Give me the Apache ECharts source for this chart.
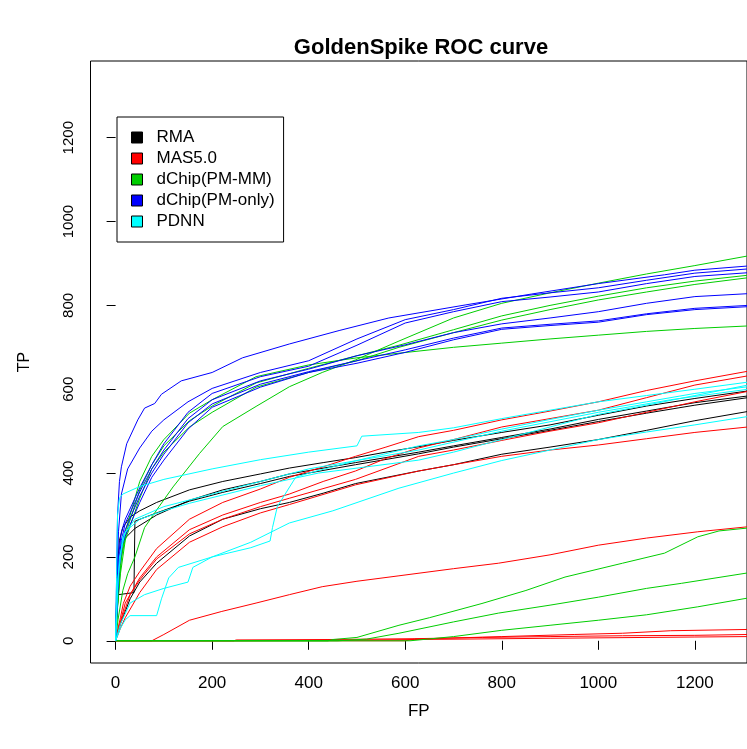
<!DOCTYPE html>
<html>
<head>
<meta charset="utf-8">
<title>GoldenSpike ROC curve</title>
<script src="https://cdn.jsdelivr.net/npm/echarts@6/dist/echarts.min.js"></script>
<style>
html, body { margin: 0; padding: 0; background: #fff; }
#chart { width: 747px; height: 749px; }
</style>
</head>
<body>
<div id="chart"></div>
<script>
var xTicks = [0, 200, 400, 600, 800, 1000, 1200];
var yTicks = [0, 200, 400, 600, 800, 1000, 1200];
var methods = ['RMA', 'MAS5.0', 'dChip(PM-MM)', 'dChip(PM-only)', 'PDNN'];

// RMA  [FP, TP]
var rma1 = [[0,0],[2,100],[4,180],[8,240],[15,270],[30,295],[50,310],[85,330],[153,360],[222,380],[300,398],[360,412],[430,425],[497,437],[560,450],[628,463],[700,478],[800,497],[900,515],[1000,538],[1100,560],[1200,578],[1310,596]];
var rma2 = [[0,0],[3,110],[6,190],[12,225],[20,245],[40,268],[85,300],[153,335],[222,360],[300,380],[360,398],[497,425],[628,450],[700,465],[800,485],[900,505],[1000,528],[1100,548],[1200,568],[1310,584]];
var rma3 = [[0,0],[2,60],[6,110],[10,113],[38,115],[40,285],[55,292],[85,305],[153,333],[222,354],[300,375],[360,392],[497,420],[628,446],[700,462],[800,482],[900,502],[1000,523],[1100,543],[1200,562],[1310,580]];
var rma4 = [[0,0],[10,40],[20,70],[30,100],[50,140],[85,185],[153,250],[222,290],[300,315],[360,330],[430,352],[497,375],[628,405],[700,420],[800,445],[900,462],[1000,480],[1100,502],[1200,525],[1310,547]];

// MAS5.0
var mas1 = [[0,0],[5,30],[10,55],[16,89],[30,130],[50,165],[85,220],[153,290],[222,330],[300,362],[360,390],[430,415],[497,440],[560,462],[628,487],[700,502],[800,527],[900,548],[1000,570],[1100,597],[1200,620],[1310,643]];
var mas2 = [[0,0],[5,25],[10,45],[20,90],[50,150],[85,200],[153,265],[222,300],[300,330],[360,350],[430,380],[497,405],[560,435],[628,460],[700,480],[800,510],[900,530],[1000,550],[1100,580],[1200,610],[1310,632]];
var mas3 = [[0,0],[8,35],[15,60],[30,110],[50,145],[85,195],[153,255],[222,290],[300,320],[360,340],[497,385],[628,440],[700,455],[800,478],[900,500],[1000,520],[1100,545],[1200,570],[1310,595]];
var mas4 = [[0,0],[10,30],[20,55],[50,115],[85,170],[153,235],[222,272],[300,305],[360,325],[497,372],[628,405],[700,420],[800,440],[900,455],[1000,467],[1100,482],[1200,497],[1310,510]];
var mas5 = [[0,0],[75,0],[100,15],[153,49],[220,70],[291,90],[360,110],[428,129],[500,142],[587,155],[700,172],[793,185],[900,205],[1000,228],[1100,245],[1206,260],[1310,272]];
var mas6 = [[0,0],[245,0],[250,2],[440,3],[620,5],[760,8],[900,10],[1050,12],[1200,13],[1310,15]];
var mas7 = [[0,0],[600,0],[620,4],[800,10],[950,15],[1050,18],[1150,24],[1310,27]];
var mas8 = [[0,0],[240,0],[440,1],[620,3],[900,6],[1200,9],[1310,10]];

// dChip(PM-MM)
var pmmm1 = [[0,0],[5,50],[15,120],[25,160],[40,200],[60,270],[90,320],[119,367],[174,447],[222,511],[291,559],[360,606],[428,640],[497,670],[587,715],[700,770],[800,805],[900,830],[1000,853],[1100,875],[1200,895],[1310,918]];
var pmmm2 = [[0,0],[4,80],[10,160],[20,240],[35,290],[50,340],[75,410],[100,450],[153,510],[200,545],[291,605],[400,640],[500,668],[587,700],[700,735],[800,765],[900,790],[1000,813],[1100,832],[1200,850],[1310,866]];
var pmmm3 = [[0,0],[4,90],[10,180],[20,260],[35,320],[50,380],[75,440],[100,480],[153,543],[200,575],[291,630],[400,658],[500,675],[587,686],[700,700],[800,710],[900,720],[1000,729],[1100,738],[1200,745],[1310,751]];
var pmmm4 = [[0,0],[5,100],[12,200],[25,270],[50,360],[75,420],[100,465],[153,525],[200,560],[291,615],[400,650],[500,680],[587,705],[700,742],[800,775],[900,800],[1000,822],[1100,842],[1200,858],[1310,872]];
var pmmm5 = [[0,0],[440,0],[450,3],[500,8],[587,37],[650,55],[759,89],[850,120],[931,152],[1050,185],[1137,209],[1206,248],[1250,262],[1310,269]];
var pmmm6 = [[0,0],[460,0],[520,4],[587,18],[700,45],[793,66],[900,85],[1000,104],[1100,125],[1172,137],[1310,162]];
var pmmm7 = [[0,0],[610,0],[700,10],[800,25],[900,37],[1000,49],[1100,62],[1206,81],[1310,102]];

// dChip(PM-only)
var pmo1 = [[0,0],[2,150],[4,300],[8,380],[12,415],[23,470],[46,527],[60,555],[81,566],[95,588],[136,620],[200,640],[263,675],[360,708],[463,740],[566,770],[724,801],[861,827],[1000,852],[1137,873],[1200,884],[1310,894]];
var pmo2 = [[0,0],[3,150],[6,260],[12,350],[25,410],[50,460],[75,500],[100,527],[150,570],[200,602],[300,640],[400,668],[500,720],[600,766],[700,790],[800,817],[900,830],[1000,842],[1100,860],[1200,877],[1310,887]];
var pmo3 = [[0,0],[3,120],[6,200],[12,260],[20,290],[50,365],[75,420],[100,470],[150,545],[200,590],[300,630],[400,655],[500,705],[600,758],[700,785],[800,809],[900,820],[1000,832],[1100,852],[1200,869],[1310,878]];
var pmo4 = [[0,0],[3,100],[6,180],[12,240],[20,280],[50,355],[75,410],[100,455],[150,530],[200,575],[300,620],[400,648],[500,680],[600,706],[700,735],[800,756],[900,770],[1000,785],[1100,805],[1200,821],[1310,828]];
var pmo5 = [[0,0],[3,90],[6,170],[12,230],[20,265],[50,345],[75,400],[100,445],[150,520],[200,565],[300,612],[400,642],[500,668],[600,694],[700,722],[800,746],[900,755],[1000,763],[1100,780],[1200,793],[1310,800]];
var pmo6 = [[0,0],[4,100],[8,180],[14,230],[20,250],[50,330],[75,390],[100,431],[150,505],[200,557],[300,605],[400,640],[500,662],[600,688],[700,718],[800,743],[900,752],[1000,760],[1100,778],[1200,790],[1310,797]];

// PDNN
var pdnn1 = [[0,0],[2,150],[4,300],[8,340],[15,350],[50,368],[100,385],[200,410],[300,432],[400,450],[500,465],[510,488],[628,497],[700,508],[800,530],[900,550],[1000,570],[1100,585],[1200,600],[1310,617]];
var pdnn2 = [[0,0],[10,30],[20,50],[30,60],[85,60],[95,100],[110,150],[130,175],[200,200],[280,222],[320,238],[325,270],[335,320],[373,390],[400,400],[500,430],[628,465],[700,480],[800,505],[900,528],[1000,550],[1100,570],[1200,590],[1310,606]];
var pdnn3 = [[0,0],[10,40],[30,90],[60,110],[100,125],[150,140],[160,175],[200,200],[280,235],[360,281],[450,310],[587,364],[700,400],[800,430],[900,455],[1000,480],[1100,498],[1200,515],[1310,535]];
var pdnn4 = [[0,0],[3,100],[8,200],[20,260],[50,290],[100,310],[153,328],[300,370],[420,400],[628,431],[700,450],[800,480],[900,510],[1000,540],[1100,562],[1200,585],[1310,610]];
var pdnn5 = [[0,0],[5,150],[15,250],[40,290],[100,320],[200,350],[300,380],[400,410],[500,430],[628,455],[800,500],[1000,545],[1150,575],[1310,600]];

var curvesByMethod = [
	[rma1, rma2, rma3, rma4],
	[mas1, mas2, mas3, mas4, mas5, mas6, mas7, mas8],
	[pmmm1, pmmm2, pmmm3, pmmm4, pmmm5, pmmm6, pmmm7],
	[pmo1, pmo2, pmo3, pmo4, pmo5, pmo6],
	[pdnn1, pdnn2, pdnn3, pdnn4, pdnn5]
];

var initRocChart = function(chartId, chartTitle, names, curveGroups){
	var dom = document.getElementById(chartId);
	var myChart = echarts.init(dom, null, {renderer: 'canvas'});
	var colors = ['#000000', '#ff0000', '#00cd00', '#0000ff', '#00ffff'];
	var font = 'Liberation Sans, Arial, sans-serif';
	var plain = function(v){ return String(v); };

	var series = [];
	for (var i = 0; i < names.length; i++) {
		for (var j = 0; j < curveGroups[i].length; j++) {
			series.push({
				name: names[i],
				type: 'line',
				data: curveGroups[i][j],
				symbol: 'none',
				showSymbol: false,
				silent: true,
				itemStyle: { color: colors[i] },
				lineStyle: { color: colors[i], width: 1 }
			});
		}
	}

	var option = {
	    animation: false,
	    backgroundColor: '#fff',
	    title: {
	        text: chartTitle,
	        left: 421,
	        top: 37,
	        textAlign: 'center',
	        padding: 0,
	        textStyle: { fontFamily: font, fontSize: 22, fontWeight: 'bold', color: '#000' }
	    },
	    legend: {
	        data: names,
	        orient: 'vertical',
	        left: 117,
	        top: 117,
	        icon: 'rect',
	        itemWidth: 11,
	        itemHeight: 11,
	        itemGap: 4,
	        padding: [12, 9, 12, 14],
	        backgroundColor: '#fff',
	        borderColor: '#000',
	        borderWidth: 1,
	        selectedMode: false,
	        itemStyle: { borderColor: '#000', borderWidth: 1 },
	        textStyle: { fontFamily: font, fontSize: 17, color: '#000', padding: [0, 0, 0, 9] }
	    },
	    grid: {
	        left: 90.5,
	        right: -2.4,
	        top: 61,
	        bottom: 86,
	        show: true,
	        borderColor: '#000',
	        borderWidth: 1,
	        backgroundColor: 'transparent'
	    },
	    xAxis: {
	        type: 'value',
	        min: -52,
	        max: 1308,
	        name: 'FP',
	        nameLocation: 'middle',
	        nameGap: 40,
	        nameTextStyle: { fontFamily: font, fontSize: 17, color: '#000' },
	        axisLine: { show: false },
	        axisTick: { show: true, customValues: xTicks, length: 9, lineStyle: { color: '#000' } },
	        axisLabel: { customValues: xTicks, formatter: plain, margin: 12, fontFamily: font, fontSize: 17, color: '#000' },
	        splitLine: { show: false }
	    },
	    yAxis: {
	        type: 'value',
	        min: -53,
	        max: 1383,
	        name: 'TP',
	        nameLocation: 'middle',
	        nameGap: 58,
	        nameTextStyle: { fontFamily: font, fontSize: 16, color: '#000' },
	        axisLine: { show: false },
	        axisTick: { show: true, customValues: yTicks, length: 9, lineStyle: { color: '#000' } },
	        axisLabel: { customValues: yTicks, formatter: plain, rotate: 90, margin: 14, fontFamily: font, fontSize: 15, color: '#000' },
	        splitLine: { show: false }
	    },
	    series: series
	};

	if (option && typeof option === "object") {
	    myChart.setOption(option, true);
	}
};

initRocChart('chart', 'GoldenSpike ROC curve', methods, curvesByMethod);
</script>
</body>
</html>
